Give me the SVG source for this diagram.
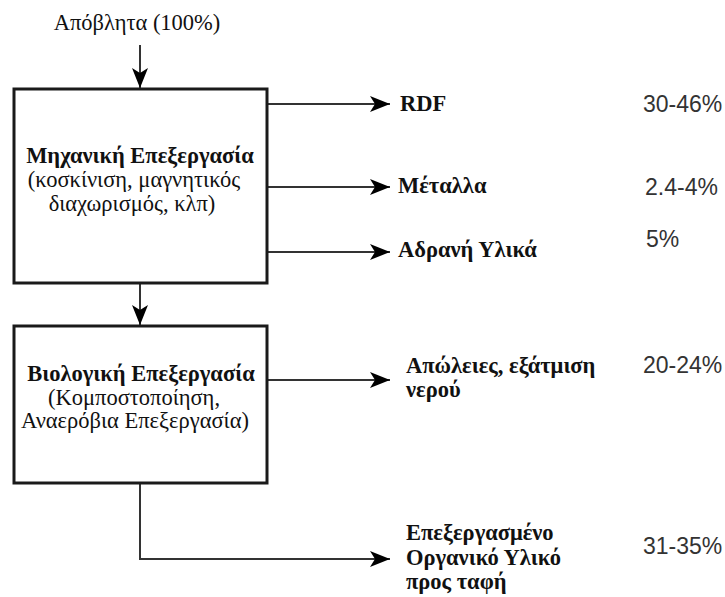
<svg xmlns="http://www.w3.org/2000/svg" width="725" height="597" viewBox="0 0 725 597">
  <defs>
    <marker id="arrow" markerWidth="20" markerHeight="16" refX="20" refY="8" orient="auto" markerUnits="userSpaceOnUse">
      <path d="M0,0 L20,8 L0,16 L5,8 Z" fill="#000"/>
    </marker>
    <style>
      .box { fill: #fff; stroke: #1a1a1a; stroke-width: 3; }
      .edge { fill: none; stroke: #333; stroke-width: 2; }
      .serif { font-family: "Liberation Serif", "Times New Roman", serif; fill: #111; font-size: 22.5px; }
      .title { font-weight: bold; }
      .out { font-weight: bold; }
      .pct { font-family: "Liberation Sans", Arial, sans-serif; font-size: 23px; fill: #333; }
    </style>
  </defs>

  <rect width="725" height="597" fill="#fff"/>

  <g id="input">
    <text class="serif" x="137" y="30" text-anchor="middle">Απόβλητα (100%)</text>
  </g>

  <g id="connectors">
    <line class="edge" x1="140" y1="45" x2="140" y2="88" marker-end="url(#arrow)"/>
    <line class="edge" x1="140" y1="284" x2="140" y2="325" marker-end="url(#arrow)"/>
    <line class="edge" x1="267" y1="104" x2="390" y2="104" marker-end="url(#arrow)"/>
    <line class="edge" x1="267" y1="187" x2="390" y2="187" marker-end="url(#arrow)"/>
    <line class="edge" x1="267" y1="252" x2="390" y2="252" marker-end="url(#arrow)"/>
    <line class="edge" x1="267" y1="380" x2="390" y2="380" marker-end="url(#arrow)"/>
    <polyline class="edge" points="140,484 140,559 390,559" marker-end="url(#arrow)"/>
  </g>

  <g id="mechanical">
    <rect class="box" x="14" y="89" width="253" height="194"/>
    <text class="serif title" x="140" y="163" text-anchor="middle">Μηχανική Επεξεργασία</text>
    <text class="serif" x="134" y="187" text-anchor="middle">(κοσκίνιση, μαγνητικός</text>
    <text class="serif" x="132" y="211" text-anchor="middle">διαχωρισμός, κλπ)</text>
  </g>

  <g id="biological">
    <rect class="box" x="14" y="326" width="253" height="157"/>
    <text class="serif title" x="141" y="381" text-anchor="middle">Βιολογική Επεξεργασία</text>
    <text class="serif" x="134" y="405" text-anchor="middle">(Κομποστοποίηση,</text>
    <text class="serif" x="135" y="428" text-anchor="middle">Αναερόβια Επεξεργασία)</text>
  </g>

  <g id="rdf">
    <text class="serif out" x="400" y="111">RDF</text>
    <text class="pct" x="643" y="112">30-46%</text>
  </g>

  <g id="metals">
    <text class="serif out" x="398" y="193">Μέταλλα</text>
    <text class="pct" x="645" y="195">2.4-4%</text>
  </g>

  <g id="inert">
    <text class="serif out" x="398" y="257">Αδρανή Υλικά</text>
    <text class="pct" x="646" y="247">5%</text>
  </g>

  <g id="losses">
    <text class="serif out" x="406" y="373">Απώλειες, εξάτμιση</text>
    <text class="serif out" x="406" y="397">νερού</text>
    <text class="pct" x="643" y="373">20-24%</text>
  </g>

  <g id="landfill">
    <text class="serif out" x="406" y="540">Επεξεργασμένο</text>
    <text class="serif out" x="406" y="565">Οργανικό Υλικό</text>
    <text class="serif out" x="406" y="589">προς ταφή</text>
    <text class="pct" x="643" y="554">31-35%</text>
  </g>
</svg>
